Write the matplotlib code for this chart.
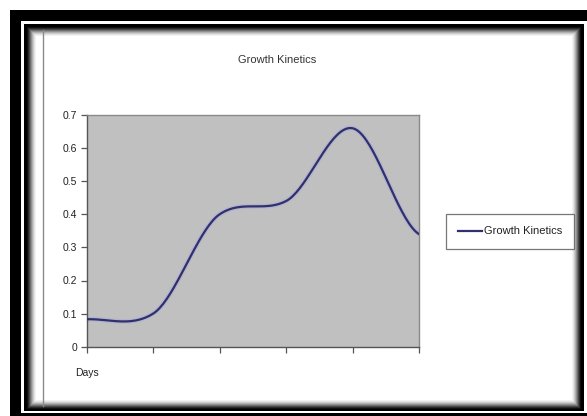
import numpy as np
import matplotlib
matplotlib.use("Agg")
import matplotlib.pyplot as plt
from matplotlib.patches import Rectangle
from matplotlib.lines import Line2D

plt.rcParams['font.family'] = ['Liberation Sans', 'DejaVu Sans']

# Series data
categories = ["Days", "", "", "", "", ""]
growth = [0.083, 0.10, 0.40, 0.44, 0.66, 0.34]
y_ticks = [0, 0.1, 0.2, 0.3, 0.4, 0.5, 0.6, 0.7]
y_tick_labels = ["0", "0.1", "0.2", "0.3", "0.4", "0.5", "0.6", "0.7"]
title_text = "Growth Kinetics"
series_name = "Growth Kinetics"

W, H = 587, 416
fig = plt.figure(figsize=(W / 100, H / 100), dpi=100)
fig.patch.set_facecolor("white")


def px_rect(x0, y0, x1, y1, color, z=0):
    """Rectangle given in pixel coordinates measured from the top-left."""
    r = Rectangle((x0 / W, 1 - y1 / H), (x1 - x0) / W, (y1 - y0) / H,
                  transform=fig.transFigure, facecolor=color,
                  edgecolor="none", zorder=z)
    fig.add_artist(r)


# Picture frame: thick black border, white gap, thin black rule, soft shadow
px_rect(10, 10, W + 5, H + 5, "black", z=-10)
px_rect(21, 21, W + 5, 413, "white", z=-9)
px_rect(24, 24, 584, 411, "black", z=-8)
shades = ["#101010", "#2a2a2a", "#4a4a4a", "#6e6e6e", "#909090",
          "#b0b0b0", "#cccccc", "#e2e2e2", "#f2f2f2", "white"]
for i, c in enumerate(shades):
    px_rect(27 + i, 27 + i, 581 - i, 409 - i, c, z=-7 + i * 0.01)
# thin vertical rule at the left of the chart area
fig.add_artist(Line2D([43 / W, 43 / W], [1 - 30 / H, 1 - 406 / H],
                      transform=fig.transFigure, color="#8a8a8a",
                      lw=1.0, zorder=-6))

# Plot area
left, right, top, bottom = 86.7, 419.0, 115.0, 346.7
ax = fig.add_axes([left / W, 1 - bottom / H, (right - left) / W, (bottom - top) / H])
ax.set_facecolor("#c0c0c0")

x = np.arange(len(growth))
pts = np.array(growth, dtype=float)

# Smoothed line through the data points (cardinal spline)
k = 0.4
ext = np.concatenate([[pts[0]], pts, [pts[-1]]])
xs_all, ys_all = [], []
t = np.linspace(0, 1, 40)
for i in range(len(pts) - 1):
    p0, p1, p2, p3 = ext[i], ext[i + 1], ext[i + 2], ext[i + 3]
    m1 = k * (p2 - p0)
    m2 = k * (p3 - p1)
    h00 = 2 * t**3 - 3 * t**2 + 1
    h10 = t**3 - 2 * t**2 + t
    h01 = -2 * t**3 + 3 * t**2
    h11 = t**3 - t**2
    xs_all.append(x[i] + t)
    ys_all.append(h00 * p1 + h10 * m1 + h01 * p2 + h11 * m2)
xs = np.concatenate(xs_all)
ys = np.concatenate(ys_all)

ax.plot(xs, ys, color="#a9a9d6", lw=3.4, alpha=0.55, solid_capstyle="butt",
        zorder=2, clip_on=True)
line, = ax.plot(xs, ys, color="#30306e", lw=1.6, zorder=3, clip_on=True,
                label=series_name)

ax.set_xlim(0, len(growth) - 1)
ax.set_ylim(0, 0.7)
ax.set_xticks(x)
ax.set_xticklabels(categories)
ax.set_yticks(y_ticks)
ax.set_yticklabels(y_tick_labels)

ax.tick_params(axis="y", direction="out", length=4, width=0.9,
               color="#555555", labelsize=7.5, labelcolor="#222222", pad=3)
ax.tick_params(axis="x", direction="out", length=4, width=0.9,
               color="#555555", labelsize=7.5, labelcolor="#222222", pad=11.5)

for s in ("left", "bottom"):
    ax.spines[s].set_color("#555555")
    ax.spines[s].set_linewidth(1.0)
for s in ("top", "right"):
    ax.spines[s].set_color("#8a8a8a")
    ax.spines[s].set_linewidth(1.0)

# Chart title
fig.text(277 / W, 1 - 60 / H, title_text, ha="center", va="center",
         fontsize=8, color="#333333")

# Legend
leg = fig.legend(handles=[line], labels=[series_name],
                 loc="center left", bbox_to_anchor=(446 / W, 1 - 231.5 / H),
                 bbox_transform=fig.transFigure, fontsize=8,
                 frameon=True, fancybox=False, shadow=False,
                 handlelength=2.1, handletextpad=0.2, borderpad=1.1,
                 borderaxespad=0)
leg.get_frame().set_edgecolor("#555555")
leg.get_frame().set_linewidth(0.9)
leg.get_frame().set_facecolor("white")
for txt in leg.get_texts():
    txt.set_color("#222222")

fig.savefig("out.png", dpi=100)
